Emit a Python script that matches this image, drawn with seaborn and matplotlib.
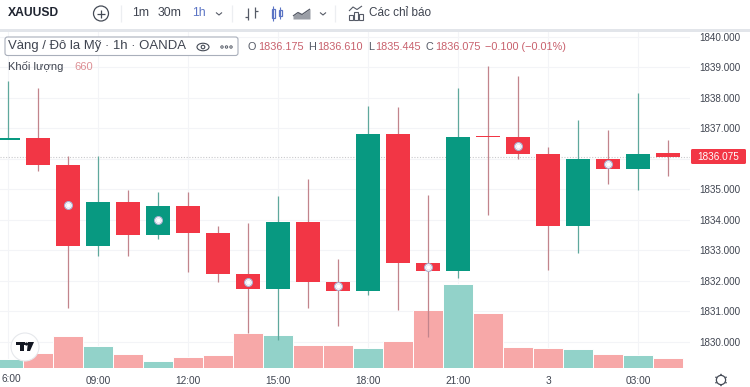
#%%
import pandas as pd
import numpy as np
import seaborn as sns
import matplotlib.pyplot as plt
from matplotlib.patches import Circle, FancyBboxPatch, Rectangle, Ellipse

sns.set_theme(style="white", font="Liberation Sans")
plt.rcParams["font.family"] = ["Liberation Sans", "DejaVu Sans"]

#%% data
opens = [1836.630, 1836.673, 1835.780, 1833.146, 1834.571, 1833.498, 1834.450, 1833.573, 1832.227, 1831.724,
         1833.934, 1831.964, 1831.649, 1836.814, 1832.588, 1832.305, 1836.745, 1836.706, 1836.148, 1833.783,
         1835.993, 1835.675, 1836.175]
closes = [1836.670, 1835.780, 1833.146, 1834.571, 1833.498, 1834.450, 1833.573, 1832.227, 1831.724, 1833.934,
          1831.964, 1831.649, 1836.814, 1832.588, 1832.305, 1836.726, 1836.705, 1836.148, 1833.783, 1835.993,
          1835.675, 1836.167, 1836.075]
highs = [1838.555, 1838.325, 1836.092, 1836.092, 1834.975, 1834.910, 1834.900, 1833.793, 1833.882, 1834.778,
         1835.327, 1832.700, 1837.734, 1837.691, 1834.811, 1838.315, 1839.038, 1838.709, 1836.388, 1837.274,
         1836.946, 1838.171, 1836.610]
lows = [1836.650, 1835.609, 1831.110, 1832.808, 1832.808, 1833.356, 1832.282, 1831.964, 1830.279, 1830.050,
        1831.110, 1830.509, 1831.517, 1831.034, 1830.158, 1832.095, 1834.154, 1836.003, 1832.348, 1832.897,
        1835.163, 1834.985, 1835.445]
volumes = [620, 990, 2140, 1430, 950, 460, 700, 840, 2290, 2180, 1500, 1540, 1350, 1760, 3810, 5520, 3660, 1370,
           1300, 1230, 900, 860, 660]
marker_idx = [2, 5, 8, 11, 14, 17, 20]
marker_price = [1834.483, 1833.990, 1831.970, 1831.823, 1832.447, 1836.420, 1835.829]

time_ticks = [0, 3, 6, 9, 12, 15, 18, 21]
time_labels = ["", "09:00", "12:00", "15:00", "18:00", "21:00", "3", "03:00"]
price_ticks = [1830, 1831, 1832, 1833, 1834, 1835, 1836, 1837, 1838, 1839, 1840]
price_labels = ["1830.000", "1831.000", "1832.000", "1833.000", "1834.000", "1835.000", "",
                "1837.000", "1838.000", "1839.000", "1840.000"]
last_price = 1836.075

GREEN, RED = "#089981", "#f23645"
W, H = 750, 387

df = pd.DataFrame({"open": opens, "close": closes, "high": highs, "low": lows, "vol": volumes})
df["idx"] = np.arange(len(df))
df["dir"] = np.where(df.close >= df.open, "up", "down")
df["color"] = df.dir.map({"up": GREEN, "down": RED})
df["wick"] = df.dir.map({"up": "#5fa89d", "down": "#c2848c"})

#%% axes, chart area is 0-690 px wide and 32-368 px down
fig = plt.figure(figsize=(W / 100, H / 100), dpi=100)
ax_vol = fig.add_axes([0, 1 - 368 / H, 690 / W, 336 / H], zorder=1)
ax = ax_vol.twinx()
ax.set_zorder(2)
ax.patch.set_visible(False)

sns.barplot(data=df, x="idx", y="vol", hue="dir", palette={"up": "#92d2c9", "down": "#f7a8a8"},
            native_scale=True, dodge=False, width=1.0, saturation=1, legend=False,
            edgecolor="white", linewidth=0.7, ax=ax_vol)
ax_vol.set(xlabel="", ylabel="", ylim=(0, 22176), yticks=[])

ax.set_ylim(1829.13, 1840.164)
ax.set_yticks(price_ticks, price_labels)
ax_vol.set_xlim(-0.267, 22.733)
ax_vol.set_xticks(time_ticks, time_labels)
ax_vol.tick_params(axis="x", length=0, pad=5.5, labelsize=7.3, colors="#3f4450")
ax.tick_params(axis="y", length=0, pad=7, labelsize=7.1, colors="#3f4450")
ax_vol.grid(axis="x", color="#f3f4f7", lw=0.8)
ax_vol.set_axisbelow(True)
ax_vol.hlines(price_ticks, -1, 24, colors="#f3f4f7", lw=0.8, transform=ax.transData, zorder=0)
for a in (ax, ax_vol):
    sns.despine(ax=a, left=True, right=True, top=True, bottom=True)

ax.vlines(df.idx, df.low, df.high, colors=df.wick, lw=0.9, zorder=2)
ax.bar(df.idx, np.abs(df.close - df.open), bottom=df[["open", "close"]].min(axis=1), width=0.77,
       color=df.color, linewidth=0, zorder=3)
ax.axhline(last_price, color="#c9c9cc", lw=0.8, ls=(0, (1, 1.5)), zorder=1)
ax.scatter(marker_idx, marker_price, s=32, facecolor="white", edgecolor="#aab0d0", lw=0.8, zorder=4)
ax.scatter(marker_idx, marker_price, s=11, facecolor="white", edgecolor="#dfe1ee", lw=0.4, zorder=5)

#%% toolbar, legend and icons, all in pixel coordinates
ui = fig.add_axes([0, 0, 1, 1], zorder=5)
ui.set_xlim(0, W)
ui.set_ylim(H, 0)
ui.axis("off")


def label(x, y, s, color="#3f4450", size=7.8, **kw):
    ui.text(x, y, s, color=color, fontsize=size, va="center", ha=kw.pop("ha", "left"), **kw)


def seg(xs, ys, color="#555a66", lw=0.9):
    ui.plot(xs, ys, color=color, lw=lw, solid_capstyle="butt")


ui.add_patch(Rectangle((0, 29), W, 3, color="#e2e5ea", lw=0))
label(8, 13.5, "XAUUSD", color="#1f2430", size=8.7, fontweight="bold")
ui.add_patch(Circle((101, 13.5), 7.5, fill=False, ec="#444a55", lw=0.9))
seg([97, 105], [13.5, 13.5], "#444a55")
seg([101, 101], [9.5, 17.5], "#444a55")
for x in (121, 232, 335):
    seg([x, x], [5, 22], "#eceef1", 0.9)
label(132, 13.5, "1m", size=8.8)
label(158, 13.5, "30m", size=8.8)
label(192, 13.5, "1h", color="#5b74c4", size=8.8)
for x in (219, 323):
    seg([x - 3, x, x + 3], [12.5, 15, 12.5], "#555a66", 0.8)
seg([248, 248], [8, 20])
seg([245, 248], [17, 17])
seg([255, 255], [7, 18])
seg([255, 258], [11, 11])
ui.add_patch(Rectangle((271.5, 9), 3.5, 9, fc="none", ec="#5b74c4", lw=0.9))
seg([273.2, 273.2], [6, 21], "#5b74c4", 0.8)
ui.add_patch(Rectangle((278.5, 10), 3.5, 6, fc="none", ec="#5b74c4", lw=0.9))
seg([280.2, 280.2], [7, 19], "#5b74c4", 0.8)
ui.fill_between([293, 298, 302, 310], [19, 19, 19, 19], [16, 12.5, 14.5, 9], color="#9a9ea6", lw=0)
seg([293, 298, 302, 310], [16, 12.5, 14.5, 9], "#555a66", 0.9)
for x, top in ((349, 15), (354, 12), (359, 14)):
    ui.add_patch(Rectangle((x, top), 4, 20 - top, fc="none", ec="#555a66", lw=0.8))
seg([349, 353, 357, 362], [11, 7, 9.5, 6], "#555a66", 0.8)
label(369, 13.5, "Các chỉ báo", size=8.5)

ui.add_patch(FancyBboxPatch((5, 37), 233, 18.5, boxstyle="round,pad=0,rounding_size=2.5",
                            fc="white", ec="#a9afbb", lw=0.8))
label(8, 46.5, "Vàng / Đô la Mỹ · 1h · OANDA", size=9.45)
ui.add_patch(Ellipse((203, 47), 12, 7.5, fill=False, ec="#444a55", lw=0.8))
ui.add_patch(Circle((203, 47), 1.8, fill=False, ec="#444a55", lw=0.8))
for x in (222, 226.5, 231):
    ui.add_patch(Circle((x, 47), 1.2, fill=False, ec="#555a66", lw=0.7))

PRICE_TXT = "#c8606c"
label(248, 47, "O", color="#555a66")
label(258, 47, "1836.175", color=PRICE_TXT)
label(308, 47, "H", color="#555a66")
label(317, 47, "1836.610", color=PRICE_TXT)
label(368, 47, "L", color="#555a66")
label(375, 47, "1835.445", color=PRICE_TXT)
label(425, 47, "C", color="#555a66")
label(435, 47, "1836.075", color=PRICE_TXT)
label(485, 47, "−0.100 (−0.01%)", color=PRICE_TXT)
label(8, 66.5, "Khối lượng", size=8)
label(74, 66.5, "660", color="#dd8f94", size=8)
label(1, 379.5, "6:00", size=7.3)

ui.add_patch(FancyBboxPatch((691, 149), 55, 15, boxstyle="round,pad=0,rounding_size=1.5", fc=RED, ec="none"))
label(718.5, 156.5, "1836.075", color="white", size=7.2, ha="center")

# tv logo and settings gear
ui.add_patch(Circle((25, 347), 14, fc="white", ec="#e6e8ec", lw=0.8))
ui.add_patch(Rectangle((16, 342), 9, 3, color="#131722", lw=0))
ui.add_patch(Rectangle((20, 342), 4, 9, color="#131722", lw=0))
ui.add_patch(Circle((26.5, 344), 1.6, color="#131722", lw=0))
ui.fill([28, 34, 30, 27], [342, 342, 351, 351], color="#131722", lw=0)
ui.add_patch(Circle((721, 380), 4.6, fill=False, ec="#444a55", lw=0.9))
for dx, dy in ((0, -5.5), (0, 5.5), (-5, -2.7), (5, -2.7), (-5, 2.7), (5, 2.7)):
    ui.add_patch(Circle((721 + dx, 380 + dy), 0.8, color="#444a55", lw=0))

fig.savefig("out.png", dpi=100, facecolor="white")
